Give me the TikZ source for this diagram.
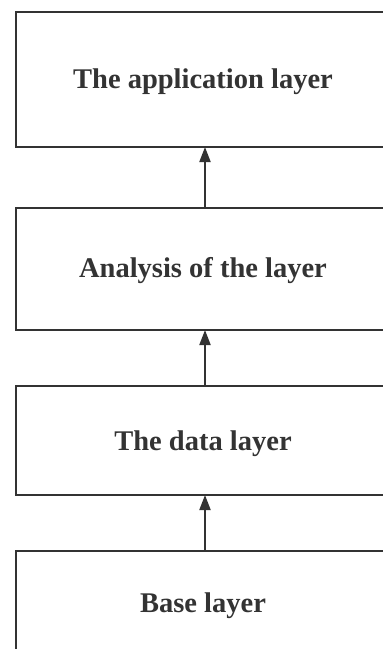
\documentclass[tikz,border=0pt]{standalone}
\usepackage{fontspec}
\setmainfont{Liberation Serif}
\usetikzlibrary{arrows.meta}
\definecolor{ink}{HTML}{333333}
\tikzset{
  layer/.style={draw=ink, line width=2pt, fill=white, minimum width=380pt, anchor=north west, inner sep=0pt},
  label/.style={font=\fontsize{28.5}{32}\selectfont\bfseries, text=ink},
  uparrow/.style={draw=ink, line width=2pt, -{Triangle[length=15pt,width=11pt]}}
}
\begin{document}
\begin{tikzpicture}[x=1pt,y=-1pt]
\useasboundingbox (0,0) rectangle (383,649);
\clip (0,0) rectangle (383,649);
\node[layer, minimum height=135pt] (app) at (14.5,11) {};
\node[label] (appt) at (203,82) {The application layer};
\node[layer, minimum height=122pt] (ana) at (14.5,207) {};
\node[label] (anat) at (203,271) {Analysis of the layer};
\node[layer, minimum height=109pt] (data) at (14.5,385) {};
\node[label] (datat) at (203,444) {The data layer};
\node[layer, minimum height=150pt] (base) at (14.5,550) {};
\node[label] (baset) at (203,606) {Base layer};
\coordinate (a1) at (205,207);
\coordinate (a1e) at (205,147);
\coordinate (a2) at (205,385);
\coordinate (a2e) at (205,330);
\coordinate (a3) at (205,550);
\coordinate (a3e) at (205,495);
\draw[uparrow] (a1) -- (a1e);
\draw[uparrow] (a2) -- (a2e);
\draw[uparrow] (a3) -- (a3e);
\end{tikzpicture}
\end{document}
